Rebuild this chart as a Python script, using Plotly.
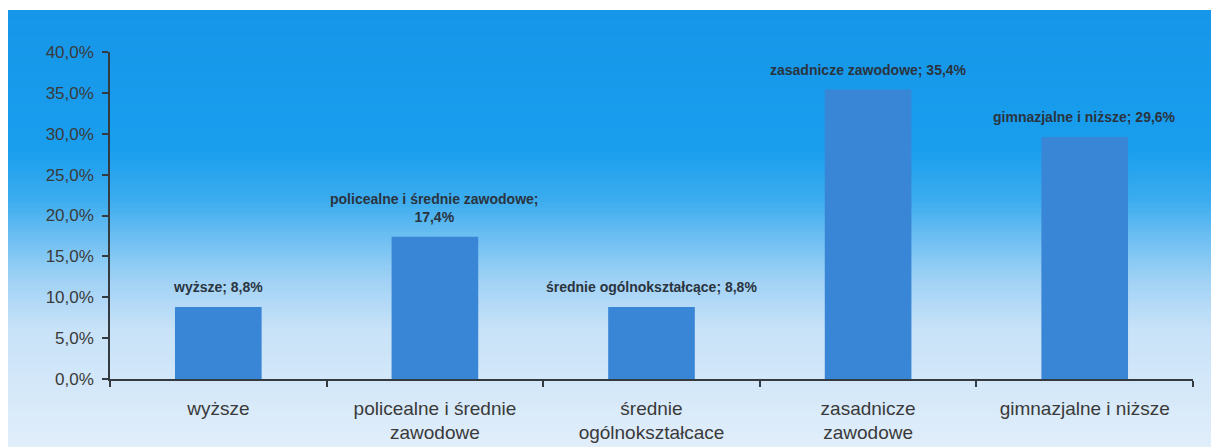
import plotly.graph_objects as go

categories = ["wyższe", "policealne i średnie<br>zawodowe", "średnie<br>ogólnokształcace",
              "zasadnicze<br>zawodowe", "gimnazjalne i niższe"]
values = [8.8, 17.4, 8.8, 35.4, 29.6]
label_texts = ["wyższe; 8,8%", "policealne i średnie zawodowe;<br>17,4%",
               "średnie ogólnokształcące; 8,8%", "zasadnicze zawodowe; 35,4%",
               "gimnazjalne i niższe; 29,6%"]
y_ticks = [0, 5, 10, 15, 20, 25, 30, 35, 40]
y_tick_labels = ["0,0%", "5,0%", "10,0%", "15,0%", "20,0%", "25,0%", "30,0%", "35,0%", "40,0%"]

W, H = 1211, 447
ML, MR, MT, MB = 110, 18, 52, 68
PW, PH = W - ML - MR, H - MT - MB

fig = go.Figure()
fig.add_trace(go.Bar(x=categories, y=values, marker=dict(color="#3a86d6", line=dict(width=0)),
                     width=0.4, hoverinfo="skip"))

for c, v, t in zip(categories, values, label_texts):
    fig.add_annotation(x=c, y=v, text="<b>" + t + "</b>", showarrow=False, yanchor="bottom",
                       yshift=10, font=dict(family="Liberation Sans, Arial", size=14, color="#2a3440"))

# background gradient
stops = [(10, (22, 150, 232)), (150, (25, 158, 238)), (200, (60, 172, 238)), (240, (112, 192, 242)),
         (280, (160, 210, 245)), (330, (200, 226, 248)), (447, (225, 238, 250))]

def col(py):
    for (p0, c0), (p1, c1) in zip(stops[:-1], stops[1:]):
        if p0 <= py <= p1:
            f = (py - p0) / (p1 - p0)
            return "rgb(%d,%d,%d)" % tuple(round(a + (b - a) * f) for a, b in zip(c0, c1))
    return "rgb(%d,%d,%d)" % stops[-1][1]

shapes = []
step = 3
py = 10
x0 = (8 - ML) / PW
x1 = (W - ML) / PW
while py < H:
    y_top = (MT + PH - py) / PH
    y_bot = (MT + PH - min(py + step + 0.5, H)) / PH
    shapes.append(dict(type="rect", xref="paper", yref="paper", x0=x0, x1=x1, y0=y_bot, y1=y_top,
                       fillcolor=col(py + step / 2), line=dict(width=0), layer="below"))
    py += step

fig.update_layout(
    width=W, height=H, margin=dict(l=ML, r=MR, t=MT, b=MB),
    paper_bgcolor="white", plot_bgcolor="rgba(0,0,0,0)",
    shapes=shapes, showlegend=False, bargap=0.6,
    font=dict(family="Liberation Sans, Arial", color="#3a3a3a"),
)
fig.update_xaxes(showline=True, linecolor="#333a40", linewidth=1.5, ticks="outside", tickson="boundaries",
                 ticklen=6, tickcolor="#333a40", tickwidth=1.5, showgrid=False, automargin=False,
                 tickfont=dict(size=19, color="#3a3a3a"), ticklabelstandoff=11)
fig.update_yaxes(range=[0, 40], tickvals=y_ticks, ticktext=y_tick_labels, showline=True,
                 linecolor="#333a40", linewidth=1.5, ticks="outside", ticklen=6, tickcolor="#333a40",
                 tickwidth=1.5, showgrid=False, zeroline=False, automargin=False,
                 tickfont=dict(size=17, color="#3a3a3a"), ticklabelstandoff=5)

fig.write_html("out.html", config={"displayModeBar": False},
               post_script="document.body.style.margin='0';")
